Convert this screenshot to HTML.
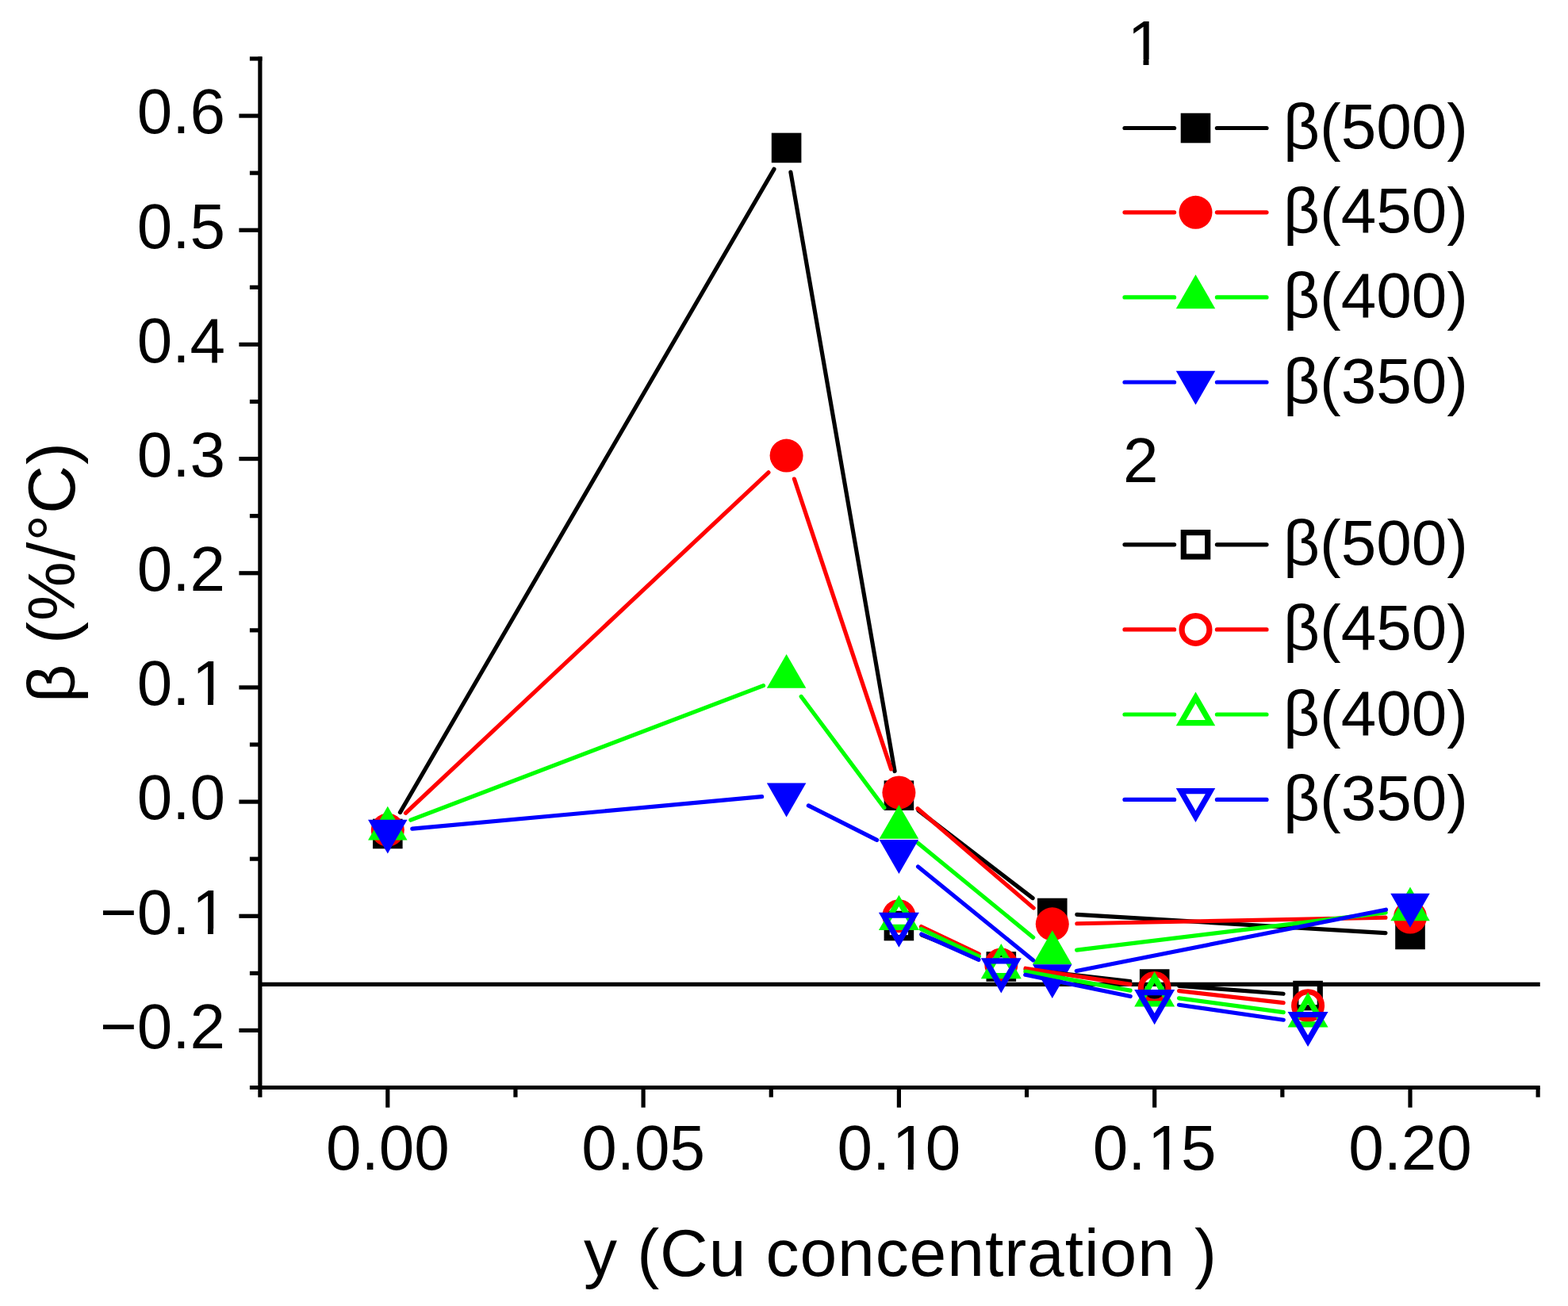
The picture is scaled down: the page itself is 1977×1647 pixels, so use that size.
<!DOCTYPE html>
<html><head><meta charset="utf-8"><title>beta vs Cu concentration</title>
<style>
html,body{margin:0;padding:0;background:#fff;overflow:hidden;width:1977px;height:1647px;}
svg{display:block;}
</style></head>
<body>
<svg width="1977" height="1647" viewBox="0 0 1977 1647">
<rect width="1977" height="1647" fill="#fff"/>
<defs><clipPath id="nofoot"><path clip-rule="evenodd" d="M0,0H1977V1647H0Z M245.51,882.59H262.03V890.73H245.51Z M268.99,882.59H285.11V890.73H268.99Z M245.51,1170.93H262.03V1179.07H245.51Z M268.99,1170.93H285.11V1179.07H268.99Z M1128.27,1468.36H1144.79V1476.5H1128.27Z M1151.75,1468.36H1167.87V1476.5H1151.75Z M1450.57,1468.36H1467.09V1476.5H1450.57Z M1474.05,1468.36H1490.17V1476.5H1474.05Z M1425,74.96H1441.52V83.1H1425Z M1448.48,74.96H1464.6V83.1H1448.48Z"/></clipPath></defs>
<line x1="327.9" y1="71.4" x2="327.9" y2="1383.7" stroke="#000" stroke-width="5.2"/>
<line x1="314.9" y1="1371.5" x2="1941.75" y2="1371.5" stroke="#000" stroke-width="5.2"/>
<line x1="301.4" y1="1299.44" x2="327.9" y2="1299.44" stroke="#000" stroke-width="5.2"/>
<line x1="314.9" y1="1227.36" x2="327.9" y2="1227.36" stroke="#000" stroke-width="5.2"/>
<line x1="301.4" y1="1155.27" x2="327.9" y2="1155.27" stroke="#000" stroke-width="5.2"/>
<line x1="314.9" y1="1083.18" x2="327.9" y2="1083.18" stroke="#000" stroke-width="5.2"/>
<line x1="301.4" y1="1011.1" x2="327.9" y2="1011.1" stroke="#000" stroke-width="5.2"/>
<line x1="314.9" y1="939.01" x2="327.9" y2="939.01" stroke="#000" stroke-width="5.2"/>
<line x1="301.4" y1="866.93" x2="327.9" y2="866.93" stroke="#000" stroke-width="5.2"/>
<line x1="314.9" y1="794.85" x2="327.9" y2="794.85" stroke="#000" stroke-width="5.2"/>
<line x1="301.4" y1="722.76" x2="327.9" y2="722.76" stroke="#000" stroke-width="5.2"/>
<line x1="314.9" y1="650.67" x2="327.9" y2="650.67" stroke="#000" stroke-width="5.2"/>
<line x1="301.4" y1="578.59" x2="327.9" y2="578.59" stroke="#000" stroke-width="5.2"/>
<line x1="314.9" y1="506.5" x2="327.9" y2="506.5" stroke="#000" stroke-width="5.2"/>
<line x1="301.4" y1="434.42" x2="327.9" y2="434.42" stroke="#000" stroke-width="5.2"/>
<line x1="314.9" y1="362.34" x2="327.9" y2="362.34" stroke="#000" stroke-width="5.2"/>
<line x1="301.4" y1="290.25" x2="327.9" y2="290.25" stroke="#000" stroke-width="5.2"/>
<line x1="314.9" y1="218.16" x2="327.9" y2="218.16" stroke="#000" stroke-width="5.2"/>
<line x1="301.4" y1="146.08" x2="327.9" y2="146.08" stroke="#000" stroke-width="5.2"/>
<line x1="314.9" y1="74" x2="330.5" y2="74" stroke="#000" stroke-width="5.2"/>
<line x1="488.8" y1="1371.5" x2="488.8" y2="1396.7" stroke="#000" stroke-width="5.2"/>
<line x1="649.95" y1="1371.5" x2="649.95" y2="1383.7" stroke="#000" stroke-width="5.2"/>
<line x1="811.1" y1="1371.5" x2="811.1" y2="1396.7" stroke="#000" stroke-width="5.2"/>
<line x1="972.25" y1="1371.5" x2="972.25" y2="1383.7" stroke="#000" stroke-width="5.2"/>
<line x1="1133.4" y1="1371.5" x2="1133.4" y2="1396.7" stroke="#000" stroke-width="5.2"/>
<line x1="1294.55" y1="1371.5" x2="1294.55" y2="1383.7" stroke="#000" stroke-width="5.2"/>
<line x1="1455.7" y1="1371.5" x2="1455.7" y2="1396.7" stroke="#000" stroke-width="5.2"/>
<line x1="1616.85" y1="1371.5" x2="1616.85" y2="1383.7" stroke="#000" stroke-width="5.2"/>
<line x1="1778" y1="1371.5" x2="1778" y2="1396.7" stroke="#000" stroke-width="5.2"/>
<line x1="1939.15" y1="1371.5" x2="1939.15" y2="1383.7" stroke="#000" stroke-width="5.2"/>
<line x1="327.9" y1="1241.4" x2="1941.75" y2="1241.4" stroke="#000" stroke-width="5.2"/>
<line x1="504.43" y1="1024.58" x2="975.96" y2="213.34" stroke="#000000" stroke-width="5.2" stroke-linecap="round"/>
<line x1="996.91" y1="217.09" x2="1128.08" y2="972.53" stroke="#000000" stroke-width="5.2" stroke-linecap="round"/>
<line x1="1158.08" y1="1022.1" x2="1302.1" y2="1132.59" stroke="#000000" stroke-width="5.2" stroke-linecap="round"/>
<line x1="1357.82" y1="1153.38" x2="1746.96" y2="1176.63" stroke="#000000" stroke-width="5.2" stroke-linecap="round"/>
<rect x="470" y="1032.67" width="37.6" height="37.6" fill="#000000"/>
<rect x="972.79" y="167.65" width="37.6" height="37.6" fill="#000000"/>
<rect x="1114.6" y="984.37" width="37.6" height="37.6" fill="#000000"/>
<rect x="1307.98" y="1132.72" width="37.6" height="37.6" fill="#000000"/>
<rect x="1759.2" y="1159.68" width="37.6" height="37.6" fill="#000000"/>
<line x1="511.47" y1="1025.28" x2="968.91" y2="595.84" stroke="#ff0000" stroke-width="5.2" stroke-linecap="round"/>
<line x1="1001.43" y1="604.05" x2="1123.55" y2="969.92" stroke="#ff0000" stroke-width="5.2" stroke-linecap="round"/>
<line x1="1157" y1="1019.67" x2="1303.18" y2="1145.11" stroke="#ff0000" stroke-width="5.2" stroke-linecap="round"/>
<line x1="1357.87" y1="1164.76" x2="1746.91" y2="1157.17" stroke="#ff0000" stroke-width="5.2" stroke-linecap="round"/>
<circle cx="488.8" cy="1046.57" r="21" fill="#ff0000"/>
<circle cx="991.59" cy="574.55" r="21" fill="#ff0000"/>
<circle cx="1133.4" cy="999.42" r="21" fill="#ff0000"/>
<circle cx="1326.78" cy="1165.36" r="21" fill="#ff0000"/>
<circle cx="1778" cy="1156.57" r="21" fill="#ff0000"/>
<line x1="517.86" y1="1034.19" x2="962.53" y2="864.6" stroke="#00ff00" stroke-width="5.2" stroke-linecap="round"/>
<line x1="1010.19" y1="878.45" x2="1114.8" y2="1018.61" stroke="#00ff00" stroke-width="5.2" stroke-linecap="round"/>
<line x1="1157.47" y1="1063.24" x2="1302.71" y2="1182.14" stroke="#00ff00" stroke-width="5.2" stroke-linecap="round"/>
<line x1="1357.65" y1="1198.09" x2="1747.13" y2="1150.8" stroke="#00ff00" stroke-width="5.2" stroke-linecap="round"/>
<polygon points="488.8,1016.69 513.55,1059.56 464.05,1059.56" fill="#00ff00"/>
<polygon points="991.59,824.94 1016.34,867.81 966.84,867.81" fill="#00ff00"/>
<polygon points="1133.4,1014.96 1158.15,1057.83 1108.65,1057.83" fill="#00ff00"/>
<polygon points="1326.78,1173.26 1351.53,1216.13 1302.03,1216.13" fill="#00ff00"/>
<polygon points="1778,1118.47 1802.75,1161.34 1753.25,1161.34" fill="#00ff00"/>
<line x1="519.77" y1="1045.17" x2="960.62" y2="1004.71" stroke="#0000ff" stroke-width="5.2" stroke-linecap="round"/>
<line x1="1019.36" y1="1015.88" x2="1105.63" y2="1059.38" stroke="#0000ff" stroke-width="5.2" stroke-linecap="round"/>
<line x1="1157.54" y1="1092.99" x2="1302.64" y2="1210.91" stroke="#0000ff" stroke-width="5.2" stroke-linecap="round"/>
<line x1="1357.29" y1="1224.48" x2="1747.49" y2="1147.18" stroke="#0000ff" stroke-width="5.2" stroke-linecap="round"/>
<polygon points="488.8,1076.59 513.55,1033.72 464.05,1033.72" fill="#0000ff"/>
<polygon points="991.59,1030.45 1016.34,987.58 966.84,987.58" fill="#0000ff"/>
<polygon points="1133.4,1101.96 1158.15,1059.09 1108.65,1059.09" fill="#0000ff"/>
<polygon points="1326.78,1259.11 1351.53,1216.24 1302.03,1216.24" fill="#0000ff"/>
<polygon points="1778,1169.72 1802.75,1126.85 1753.25,1126.85" fill="#0000ff"/>
<line x1="1162.28" y1="1179.06" x2="1233.44" y2="1207.46" stroke="#000000" stroke-width="5.2" stroke-linecap="round"/>
<line x1="1293.22" y1="1222.52" x2="1424.8" y2="1237.53" stroke="#000000" stroke-width="5.2" stroke-linecap="round"/>
<line x1="1486.71" y1="1243.39" x2="1618.07" y2="1253.28" stroke="#000000" stroke-width="5.2" stroke-linecap="round"/>
<rect x="1118.2" y="1152.32" width="30.4" height="30.4" fill="none" stroke="#000000" stroke-width="7.2"/>
<rect x="1247.12" y="1203.79" width="30.4" height="30.4" fill="none" stroke="#000000" stroke-width="7.2"/>
<rect x="1440.5" y="1225.85" width="30.4" height="30.4" fill="none" stroke="#000000" stroke-width="7.2"/>
<rect x="1633.88" y="1240.41" width="30.4" height="30.4" fill="none" stroke="#000000" stroke-width="7.2"/>
<line x1="1161.48" y1="1168.5" x2="1234.24" y2="1203.17" stroke="#ff0000" stroke-width="5.2" stroke-linecap="round"/>
<line x1="1293.06" y1="1221.24" x2="1424.96" y2="1241.4" stroke="#ff0000" stroke-width="5.2" stroke-linecap="round"/>
<line x1="1486.6" y1="1249.62" x2="1618.18" y2="1264.63" stroke="#ff0000" stroke-width="5.2" stroke-linecap="round"/>
<circle cx="1133.4" cy="1155.13" r="17.4" fill="none" stroke="#ff0000" stroke-width="7.2"/>
<circle cx="1262.32" cy="1216.54" r="17.4" fill="none" stroke="#ff0000" stroke-width="7.2"/>
<circle cx="1455.7" cy="1246.1" r="17.4" fill="none" stroke="#ff0000" stroke-width="7.2"/>
<circle cx="1649.08" cy="1268.16" r="17.4" fill="none" stroke="#ff0000" stroke-width="7.2"/>
<line x1="1161.48" y1="1171.53" x2="1234.24" y2="1206.19" stroke="#00ff00" stroke-width="5.2" stroke-linecap="round"/>
<line x1="1292.92" y1="1225.14" x2="1425.1" y2="1249.18" stroke="#00ff00" stroke-width="5.2" stroke-linecap="round"/>
<line x1="1486.52" y1="1258.88" x2="1618.26" y2="1276.56" stroke="#00ff00" stroke-width="5.2" stroke-linecap="round"/>
<polygon points="1133.4,1135.91 1152.66,1169.28 1114.14,1169.28" fill="none" stroke="#00ff00" stroke-width="7.2" stroke-linejoin="miter"/>
<polygon points="1262.32,1197.32 1281.58,1230.69 1243.06,1230.69" fill="none" stroke="#00ff00" stroke-width="7.2" stroke-linejoin="miter"/>
<polygon points="1455.7,1232.5 1474.96,1265.87 1436.44,1265.87" fill="none" stroke="#00ff00" stroke-width="7.2" stroke-linejoin="miter"/>
<polygon points="1649.08,1258.45 1668.34,1291.82 1629.82,1291.82" fill="none" stroke="#00ff00" stroke-width="7.2" stroke-linejoin="miter"/>
<line x1="1161.79" y1="1178.06" x2="1233.93" y2="1210.33" stroke="#0000ff" stroke-width="5.2" stroke-linecap="round"/>
<line x1="1292.78" y1="1229.3" x2="1425.24" y2="1256.55" stroke="#0000ff" stroke-width="5.2" stroke-linecap="round"/>
<line x1="1486.48" y1="1267.25" x2="1618.3" y2="1286.22" stroke="#0000ff" stroke-width="5.2" stroke-linecap="round"/>
<polygon points="1133.4,1187.61 1152.66,1154.24 1114.14,1154.24" fill="none" stroke="#0000ff" stroke-width="7.2" stroke-linejoin="miter"/>
<polygon points="1262.32,1245.27 1281.58,1211.91 1243.06,1211.91" fill="none" stroke="#0000ff" stroke-width="7.2" stroke-linejoin="miter"/>
<polygon points="1455.7,1285.07 1474.96,1251.7 1436.44,1251.7" fill="none" stroke="#0000ff" stroke-width="7.2" stroke-linejoin="miter"/>
<polygon points="1649.08,1312.89 1668.34,1279.52 1629.82,1279.52" fill="none" stroke="#0000ff" stroke-width="7.2" stroke-linejoin="miter"/>
<text x="736" y="1609" font-size="84" textLength="798" lengthAdjust="spacing" font-family="Liberation Sans, Arial, sans-serif">y (Cu concentration )</text>
<text transform="translate(93.5,886) rotate(-90)" x="0" y="0" font-size="84" textLength="328" lengthAdjust="spacing" font-family="Liberation Sans, Arial, sans-serif">β (%/°C)</text>
<text x="1416" y="608" font-size="80" font-family="Liberation Sans, Arial, sans-serif">2</text>
<line x1="1418" y1="161.5" x2="1480.6" y2="161.5" stroke="#000000" stroke-width="5.2" stroke-linecap="round"/>
<line x1="1534.4" y1="161.5" x2="1597" y2="161.5" stroke="#000000" stroke-width="5.2" stroke-linecap="round"/>
<rect x="1488.7" y="142.7" width="37.6" height="37.6" fill="#000000"/>
<text x="1618" y="187" font-size="80" font-family="Liberation Sans, Arial, sans-serif">β(500)</text>
<line x1="1418" y1="267.8" x2="1480.6" y2="267.8" stroke="#ff0000" stroke-width="5.2" stroke-linecap="round"/>
<line x1="1534.4" y1="267.8" x2="1597" y2="267.8" stroke="#ff0000" stroke-width="5.2" stroke-linecap="round"/>
<circle cx="1507.5" cy="267.8" r="21" fill="#ff0000"/>
<text x="1618" y="293.3" font-size="80" font-family="Liberation Sans, Arial, sans-serif">β(450)</text>
<line x1="1418" y1="374.9" x2="1480.6" y2="374.9" stroke="#00ff00" stroke-width="5.2" stroke-linecap="round"/>
<line x1="1534.4" y1="374.9" x2="1597" y2="374.9" stroke="#00ff00" stroke-width="5.2" stroke-linecap="round"/>
<polygon points="1507.5,346.32 1532.25,389.19 1482.75,389.19" fill="#00ff00"/>
<text x="1618" y="400.4" font-size="80" font-family="Liberation Sans, Arial, sans-serif">β(400)</text>
<line x1="1418" y1="482" x2="1480.6" y2="482" stroke="#0000ff" stroke-width="5.2" stroke-linecap="round"/>
<line x1="1534.4" y1="482" x2="1597" y2="482" stroke="#0000ff" stroke-width="5.2" stroke-linecap="round"/>
<polygon points="1507.5,510.58 1532.25,467.71 1482.75,467.71" fill="#0000ff"/>
<text x="1618" y="507.5" font-size="80" font-family="Liberation Sans, Arial, sans-serif">β(350)</text>
<line x1="1418" y1="686.8" x2="1480.6" y2="686.8" stroke="#000000" stroke-width="5.2" stroke-linecap="round"/>
<line x1="1534.4" y1="686.8" x2="1597" y2="686.8" stroke="#000000" stroke-width="5.2" stroke-linecap="round"/>
<rect x="1492.3" y="671.6" width="30.4" height="30.4" fill="none" stroke="#000000" stroke-width="7.2"/>
<text x="1618" y="712.3" font-size="80" font-family="Liberation Sans, Arial, sans-serif">β(500)</text>
<line x1="1418" y1="793.9" x2="1480.6" y2="793.9" stroke="#ff0000" stroke-width="5.2" stroke-linecap="round"/>
<line x1="1534.4" y1="793.9" x2="1597" y2="793.9" stroke="#ff0000" stroke-width="5.2" stroke-linecap="round"/>
<circle cx="1507.5" cy="793.9" r="17.4" fill="none" stroke="#ff0000" stroke-width="7.2"/>
<text x="1618" y="819.4" font-size="80" font-family="Liberation Sans, Arial, sans-serif">β(450)</text>
<line x1="1418" y1="901" x2="1480.6" y2="901" stroke="#00ff00" stroke-width="5.2" stroke-linecap="round"/>
<line x1="1534.4" y1="901" x2="1597" y2="901" stroke="#00ff00" stroke-width="5.2" stroke-linecap="round"/>
<polygon points="1507.5,879.62 1526.01,911.69 1488.99,911.69" fill="none" stroke="#00ff00" stroke-width="7.2" stroke-linejoin="miter"/>
<text x="1618" y="926.5" font-size="80" font-family="Liberation Sans, Arial, sans-serif">β(400)</text>
<line x1="1418" y1="1008.4" x2="1480.6" y2="1008.4" stroke="#0000ff" stroke-width="5.2" stroke-linecap="round"/>
<line x1="1534.4" y1="1008.4" x2="1597" y2="1008.4" stroke="#0000ff" stroke-width="5.2" stroke-linecap="round"/>
<polygon points="1507.5,1029.78 1526.01,997.71 1488.99,997.71" fill="none" stroke="#0000ff" stroke-width="7.2" stroke-linejoin="miter"/>
<text x="1618" y="1033.9" font-size="80" font-family="Liberation Sans, Arial, sans-serif">β(350)</text>
<g clip-path="url(#nofoot)"><text x="172.79 217.28 239.51" y="168.38" font-size="80" font-family="Liberation Sans, Arial, sans-serif">0.6</text>
<text x="172.79 217.28 239.51" y="312.55" font-size="80" font-family="Liberation Sans, Arial, sans-serif">0.5</text>
<text x="172.79 217.28 239.51" y="456.72" font-size="80" font-family="Liberation Sans, Arial, sans-serif">0.4</text>
<text x="172.79 217.28 239.51" y="600.89" font-size="80" font-family="Liberation Sans, Arial, sans-serif">0.3</text>
<text x="172.79 217.28 239.51" y="745.06" font-size="80" font-family="Liberation Sans, Arial, sans-serif">0.2</text>
<text x="172.79 217.28 241.91" y="889.23" font-size="80" font-family="Liberation Sans, Arial, sans-serif">0.1</text>
<text x="172.79 217.28 239.51" y="1033.4" font-size="80" font-family="Liberation Sans, Arial, sans-serif">0.0</text>
<text x="126.07 172.79 217.28 241.91" y="1177.57" font-size="80" font-family="Liberation Sans, Arial, sans-serif">−0.1</text>
<text x="126.07 172.79 217.28 239.51" y="1321.74" font-size="80" font-family="Liberation Sans, Arial, sans-serif">−0.2</text>
<text x="410.95 455.44 477.67 522.16" y="1475" font-size="80" font-family="Liberation Sans, Arial, sans-serif">0.00</text>
<text x="733.25 777.74 799.97 844.46" y="1475" font-size="80" font-family="Liberation Sans, Arial, sans-serif">0.05</text>
<text x="1055.55 1100.04 1124.67 1166.76" y="1475" font-size="80" font-family="Liberation Sans, Arial, sans-serif">0.10</text>
<text x="1377.85 1422.34 1446.97 1489.06" y="1475" font-size="80" font-family="Liberation Sans, Arial, sans-serif">0.15</text>
<text x="1700.15 1744.64 1766.87 1811.36" y="1475" font-size="80" font-family="Liberation Sans, Arial, sans-serif">0.20</text>
<text x="1421.4" y="81.6" font-size="80" font-family="Liberation Sans, Arial, sans-serif">1</text></g>
</svg>
</body></html>
